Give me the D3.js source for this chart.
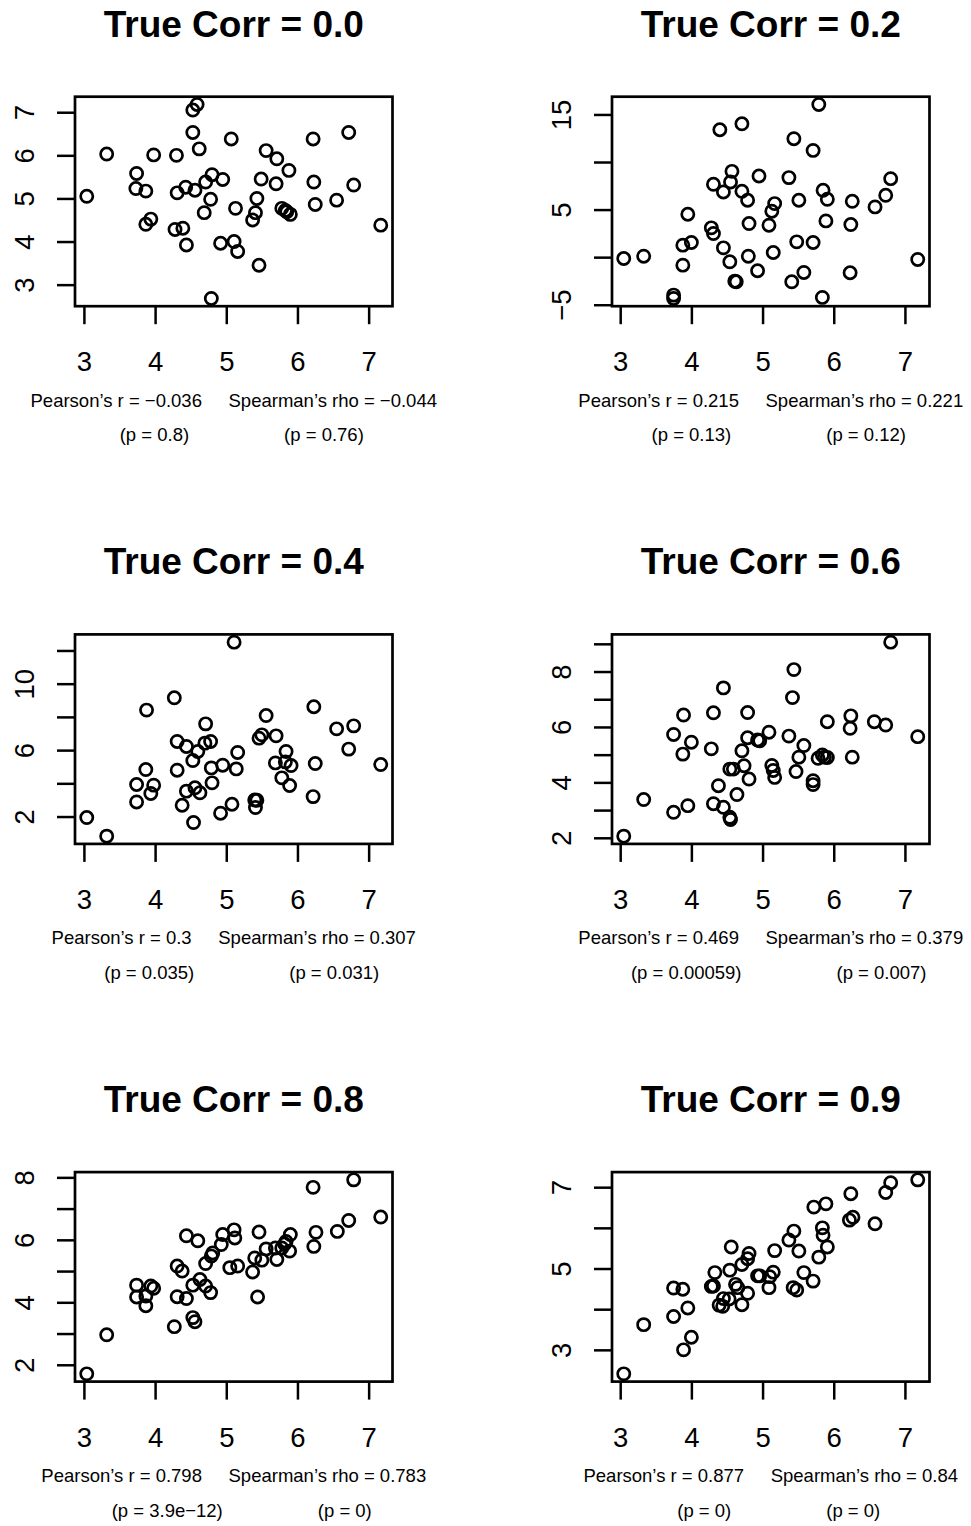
<!DOCTYPE html>
<meta charset="utf-8" />
<style>
  body { margin: 0; background: #fff; }
  text { font-family: "Liberation Sans", Arial, Helvetica, sans-serif; fill: #000; }
</style>
<body>
<div id="chart"></div>
<script src="https://d3js.org/d3.v7.min.js"></script>
<script>
// panel titles and the statistics printed under each plot
var titles = ["True Corr = 0.0", "True Corr = 0.2", "True Corr = 0.4",
              "True Corr = 0.6", "True Corr = 0.8", "True Corr = 0.9"];
var pearsonR = ["\u22120.036", "0.215", "0.3", "0.469", "0.798", "0.877"];
var spearmanRho = ["\u22120.044", "0.221", "0.307", "0.379", "0.783", "0.84"];
var pearsonP = ["0.8", "0.13", "0.035", "0.00059", "3.9e\u221212", "0"];
var spearmanP = ["0.76", "0.12", "0.031", "0.007", "0", "0"];

// axis ticks (R draws every tick, but drops labels that would overlap)
var xTicks = [3, 4, 5, 6, 7];
var yTicks = [[3, 4, 5, 6, 7], [-5, 0, 5, 10, 15], [2, 4, 6, 8, 10, 12],
              [2, 3, 4, 5, 6, 7, 8, 9], [2, 3, 4, 5, 6, 7, 8], [3, 4, 5, 6, 7]];
var yLabels = [[3, 4, 5, 6, 7], [-5, 5, 15], [2, 6, 10],
               [2, 4, 6, 8], [2, 4, 6, 8], [3, 5, 7]];

// points, [x, y]
var corr00 = [[3.04,5.05],[3.32,6.03],[3.74,5.58],[3.73,5.23],[3.87,5.17],[3.98,6.01],[3.94,4.52],[3.87,4.40],[4.28,4.28],[4.39,4.31],
  [4.44,3.92],[4.30,6.00],[4.31,5.13],[4.43,5.26],[4.56,5.19],[4.53,7.05],[4.59,7.18],[4.53,6.53],[4.62,6.15],[4.69,4.67],
  [4.78,4.98],[4.71,5.38],[4.80,5.55],[4.95,5.44],[4.79,2.68],[4.92,3.96],[5.11,4.00],[5.16,3.77],[5.07,6.38],[5.13,4.77],
  [5.43,5.00],[5.41,4.67],[5.37,4.50],[5.46,3.45],[5.49,5.45],[5.56,6.11],[5.71,5.92],[5.70,5.34],[5.88,5.65],[5.78,4.77],
  [5.83,4.72],[5.85,4.69],[5.90,4.63],[6.22,6.38],[6.23,5.38],[6.25,4.86],[6.55,4.96],[6.72,6.53],[6.79,5.31],[7.17,4.38]];

var corr02 = [[3.05,-0.14],[3.33,0.10],[3.75,-3.99],[3.75,-4.34],[3.88,-0.84],[3.88,1.26],[4.00,1.54],[3.95,4.51],[4.28,3.08],[4.31,2.48],
  [4.40,13.39],[4.31,7.66],[4.45,0.98],[4.54,-0.49],[4.45,6.85],[4.55,7.90],[4.57,9.02],[4.61,-2.52],[4.63,-2.59],[4.71,14.02],
  [4.71,6.92],[4.79,5.98],[4.81,3.53],[4.80,0.10],[4.95,8.53],[4.93,-1.43],[5.09,3.36],[5.13,4.83],[5.17,5.63],[5.15,0.49],
  [5.37,8.36],[5.44,12.45],[5.41,-2.59],[5.48,1.61],[5.51,5.98],[5.58,-1.61],[5.71,11.22],[5.71,1.54],[5.79,16.05],[5.85,7.03],
  [5.91,6.08],[5.89,3.81],[5.84,-4.23],[6.26,5.87],[6.24,3.43],[6.23,-1.64],[6.58,5.28],[6.73,6.50],[6.80,8.25],[7.18,-0.24]];

var corr04 = [[3.04,1.94],[3.32,0.82],[3.74,3.93],[3.74,2.88],[3.87,4.83],[3.88,8.41],[3.98,3.89],[3.94,3.39],[4.27,9.15],[4.31,4.79],
  [4.31,6.52],[4.38,2.68],[4.44,6.22],[4.44,3.53],[4.54,1.64],[4.53,5.37],[4.56,3.73],[4.63,3.43],[4.60,5.92],[4.70,6.42],
  [4.71,7.58],[4.78,6.52],[4.79,4.93],[4.80,4.03],[4.92,2.20],[4.95,5.09],[5.11,12.50],[5.08,2.74],[5.14,4.87],[5.16,5.86],
  [5.40,3.00],[5.43,2.98],[5.41,2.54],[5.46,6.72],[5.50,6.92],[5.56,8.08],[5.70,6.86],[5.69,5.23],[5.78,4.33],[5.84,5.92],
  [5.83,5.29],[5.91,5.07],[5.89,3.87],[6.23,8.61],[6.25,5.19],[6.22,3.20],[6.55,7.28],[6.72,6.06],[6.79,7.46],[7.17,5.13]];

var corr06 = [[3.05,2.06],[3.33,3.38],[3.75,2.92],[3.75,5.73],[3.88,5.02],[3.89,6.43],[3.95,3.16],[4.00,5.45],[4.28,5.21],[4.31,6.51],
  [4.31,3.23],[4.38,3.88],[4.45,3.10],[4.45,7.41],[4.54,2.74],[4.55,2.66],[4.54,4.48],[4.59,4.48],[4.64,3.56],[4.71,5.14],
  [4.74,4.60],[4.79,5.61],[4.79,6.52],[4.81,4.12],[4.93,5.53],[4.96,5.50],[5.09,5.81],[5.13,4.61],[5.15,4.43],[5.17,4.18],
  [5.37,5.67],[5.42,7.06],[5.44,8.07],[5.47,4.39],[5.51,4.91],[5.58,5.33],[5.71,4.06],[5.71,3.92],[5.78,4.87],[5.84,4.99],
  [5.87,4.91],[5.91,4.90],[5.91,6.19],[6.24,6.40],[6.23,5.95],[6.26,4.91],[6.57,6.19],[6.73,6.07],[6.80,9.06],[7.18,5.65]];

var corr08 = [[3.04,1.71],[3.32,2.96],[3.74,4.55],[3.74,4.17],[3.87,3.89],[3.87,4.20],[3.94,4.52],[3.98,4.45],[4.27,3.22],[4.31,5.16],
  [4.31,4.18],[4.38,5.00],[4.44,6.13],[4.44,4.12],[4.53,3.51],[4.56,3.38],[4.53,4.55],[4.60,5.97],[4.63,4.73],[4.71,4.52],
  [4.71,5.24],[4.78,4.31],[4.79,5.48],[4.81,5.58],[4.93,5.85],[4.95,6.17],[5.11,6.32],[5.12,6.06],[5.05,5.11],[5.16,5.16],
  [5.37,4.97],[5.40,5.42],[5.44,4.17],[5.46,6.25],[5.50,5.35],[5.56,5.71],[5.69,5.74],[5.71,5.37],[5.78,5.74],[5.82,5.87],
  [5.84,5.95],[5.90,6.17],[5.89,5.64],[6.22,7.68],[6.26,6.24],[6.23,5.79],[6.56,6.27],[6.72,6.62],[6.79,7.92],[7.17,6.73]];

var corr09 = [[3.05,2.41],[3.33,3.62],[3.75,3.82],[3.75,4.52],[3.88,4.49],[3.89,3.00],[4.00,3.31],[3.95,4.03],[4.28,4.56],[4.31,4.57],
  [4.33,4.90],[4.39,4.10],[4.44,4.07],[4.45,4.26],[4.53,4.25],[4.54,4.96],[4.56,5.53],[4.62,4.61],[4.65,4.53],[4.71,4.11],
  [4.71,5.10],[4.79,4.39],[4.79,5.24],[4.81,5.37],[4.93,4.82],[4.96,4.82],[5.09,4.53],[5.10,4.80],[5.15,4.91],[5.17,5.44],
  [5.37,5.70],[5.44,5.92],[5.43,4.53],[5.48,4.47],[5.51,5.43],[5.58,4.90],[5.71,4.69],[5.72,6.51],[5.79,5.28],[5.84,6.00],
  [5.85,5.82],[5.91,5.53],[5.89,6.59],[6.24,6.84],[6.22,6.19],[6.27,6.26],[6.58,6.10],[6.73,6.87],[6.80,7.11],[7.18,7.18]];

var panelData = [corr00, corr02, corr04, corr06, corr08, corr09];

var W = 971, H = 1526;
var svg = d3.select("#chart").append("svg")
  .attr("width", W)
  .attr("height", H);

// R style axis range: data range stretched by 4% on each side
function rRange(vals) {
  var e = d3.extent(vals);
  var d = (e[1] - e[0]) * 0.04;
  return [e[0] - d, e[1] + d];
}

var boxW = 317.5, boxH = 209.5;
var fmt = d3.format("d");

panelData.forEach(function(pts, i) {
  var col = i % 2, row = Math.floor(i / 2);
  var left = 75 + 537 * col;
  var top = 96.7 + 537.7 * row;
  var cx = boxW / 2;

  var g = svg.append("g")
    .attr("transform", "translate(" + left + "," + top + ")");

  var x = d3.scaleLinear()
    .domain(rRange(pts.map(function(d) { return d[0]; })))
    .range([0, boxW]);
  var y = d3.scaleLinear()
    .domain(rRange(pts.map(function(d) { return d[1]; })))
    .range([boxH, 0]);

  // x axis
  var xa = g.append("g")
    .attr("transform", "translate(0," + boxH + ")")
    .call(d3.axisBottom(x).tickValues(xTicks).tickSize(18).tickFormat(fmt));
  xa.select(".domain").remove();
  xa.selectAll("line").attr("stroke", "#000").attr("stroke-width", 2.5);
  xa.selectAll("text")
    .attr("y", 65)
    .attr("dy", null)
    .style("font-size", "27.5px")
    .style("font-family", null);

  // y axis, labels rotated like R's las = 0
  var labs = yLabels[i];
  var ya = g.append("g")
    .call(d3.axisLeft(y).tickValues(yTicks[i]).tickSize(18)
      .tickFormat(function(d) { return labs.indexOf(d) >= 0 ? fmt(d) : ""; }));
  ya.select(".domain").remove();
  ya.selectAll("line").attr("stroke", "#000").attr("stroke-width", 2.5);
  ya.selectAll("text")
    .attr("x", null)
    .attr("dy", null)
    .attr("text-anchor", "middle")
    .attr("transform", "translate(-41,0) rotate(-90)")
    .style("font-size", "27.5px")
    .style("font-family", null);

  // points
  g.selectAll("circle")
    .data(pts)
    .enter()
    .append("circle")
    .attr("cx", function(d) { return x(d[0]); })
    .attr("cy", function(d) { return y(d[1]); })
    .attr("r", 6.1)
    .attr("fill", "none")
    .attr("stroke", "#000")
    .attr("stroke-width", 2.7);

  // box
  g.append("rect")
    .attr("width", boxW)
    .attr("height", boxH)
    .attr("fill", "none")
    .attr("stroke", "#000")
    .attr("stroke-width", 2.7);

  // title
  g.append("text")
    .attr("x", cx)
    .attr("y", -60)
    .attr("text-anchor", "middle")
    .style("font-size", "37px")
    .style("font-weight", "bold")
    .text(titles[i]);

  // correlation line
  var s = g.append("text")
    .attr("x", cx)
    .attr("y", boxH + 100.5)
    .attr("text-anchor", "middle")
    .style("font-size", "18.5px");
  s.append("tspan").text("Pearson\u2019s r = " + pearsonR[i]);
  s.append("tspan").attr("dx", 26.6).text("Spearman\u2019s rho = " + spearmanRho[i]);

  // p values
  var p = g.append("text")
    .attr("x", cx + 8)
    .attr("y", boxH + 135)
    .attr("text-anchor", "middle")
    .style("font-size", "18.5px");
  p.append("tspan").text("(p = " + pearsonP[i] + ")");
  p.append("tspan").attr("dx", 95).text("(p = " + spearmanP[i] + ")");
});
</script>
</body>
